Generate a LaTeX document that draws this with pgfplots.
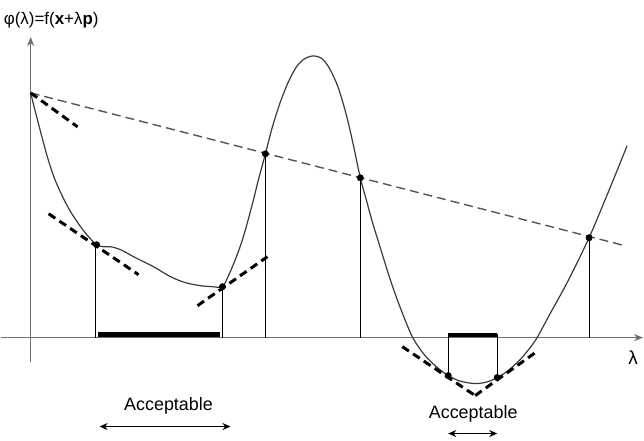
\documentclass[border=0pt]{standalone}
\usepackage{pgfplots}
\pgfplotsset{compat=1.18}
\usetikzlibrary{arrows.meta}
\usepackage{fontspec}
\setmainfont{Liberation Sans}
\definecolor{curvec}{HTML}{3A3A3A}
\definecolor{axisc}{HTML}{6E6E6E}
\definecolor{secc}{HTML}{555555}
\begin{document}
\begin{tikzpicture}
\begin{axis}[
  width=644bp, height=441bp, scale only axis,
  xmin=0, xmax=644, ymin=0, ymax=441, y dir=reverse,
  hide axis, clip=false,
]
\addplot[draw=none] coordinates {(0,0)(644,441)};
% axes
\addplot[axisc, line width=1.6bp, -{Stealth[length=9bp,width=7bp]}] coordinates {(30,362)(30,37)};
\addplot[axisc, line width=1.4bp, -{Stealth[length=9bp,width=7bp]}] coordinates {(0,338)(643,338)};
% vertical lines
\addplot[black, line width=1bp] coordinates {(95,245)(95,338)};
\addplot[black, line width=1bp] coordinates {(222,287)(222,338)};
\addplot[black, line width=1bp] coordinates {(265,154)(265,338)};
\addplot[black, line width=1bp] coordinates {(360,178)(360,338)};
\addplot[black, line width=1bp] coordinates {(589,238)(589,338)};
\addplot[black, line width=1bp] coordinates {(448,334)(448,376)};
\addplot[black, line width=1bp] coordinates {(497,334)(497,378)};
% acceptable bars
\addplot[black, line width=5bp] coordinates {(97,334.5)(220,334.5)};
\addplot[black, line width=3.5bp] coordinates {(448,335.5)(497,335.5)};
% secant line
\addplot[secc, line width=1.4bp, dash pattern=on 9bp off 5bp] coordinates {(30,93)(625,246)};
% curve
\addplot[curvec, line width=1.2bp, smooth] coordinates {
(30,93)(35,113)(41,136)(47,158)(54,179)(62,197)(70,212)(80,227)(88,237)(96,245)
(103,247)(110,247)(120,250)(135,258)(153,267)(170,277)(185,283)(200,286)(212,287)(222,287)
(228,276)(234,262)(240,246)(245,230)(252,204)(258,180)(265,154)
(272,127)(280,102)(288,82)(296,67)(304,59)(313,56)(322,59)(330,70)(338,88)(346,115)(353,145)(360,178)
(366,200)(372,222)(380,248)(390,280)(400,308)(412,337)(424,355)(436,367)(448,376)(460,381.5)(475,384)
(487,382.3)(497,378)(508,371)(520,360)(530,348)(537,338)(550,314)(567,283)(589,238)
(610,188)(627,146)};
% tangent dashes
\addplot[black, line width=3bp, dash pattern=on 8bp off 5bp] coordinates {(30,93)(77,127)};
\addplot[black, line width=3bp, dash pattern=on 8bp off 5bp] coordinates {(48,214)(138,275)};
\addplot[black, line width=3bp, dash pattern=on 8bp off 5bp] coordinates {(197,306)(267,257)};
\addplot[black, line width=3bp, dash pattern=on 8bp off 5bp] coordinates {(402,347)(475,396)};
\addplot[black, line width=3bp, dash pattern=on 8bp off 5bp] coordinates {(475,396)(538,351)};
% points
\addplot[only marks, mark=*, mark size=3.2bp, black] coordinates {
(96,245)(222,287)(265,154)(360,178)(589,238)(448,376)(497,378)};
% acceptable arrows
\addplot[black, line width=1.3bp, {Stealth[length=8bp,width=7bp]}-{Stealth[length=8bp,width=7bp]}] coordinates {(99,427)(230,427)};
\addplot[black, line width=1.3bp, {Stealth[length=8bp,width=7bp]}-{Stealth[length=8bp,width=7bp]}] coordinates {(448,434)(497,434)};
% texts
\node[font=\fontsize{18}{20}\selectfont, inner sep=0pt] at (axis cs:168,406) {Acceptable};
\node[font=\fontsize{18}{20}\selectfont, inner sep=0pt] at (axis cs:473,414) {Acceptable};
\node[font=\fontsize{19}{21}\selectfont, inner sep=0pt] at (axis cs:633,358) {λ};
\node[font=\fontsize{17}{20}\selectfont, inner sep=0pt, anchor=west] at (axis cs:3,20) {φ(λ)=f(\textbf{x}+λ\textbf{p})};
\end{axis}
\end{tikzpicture}
\end{document}
